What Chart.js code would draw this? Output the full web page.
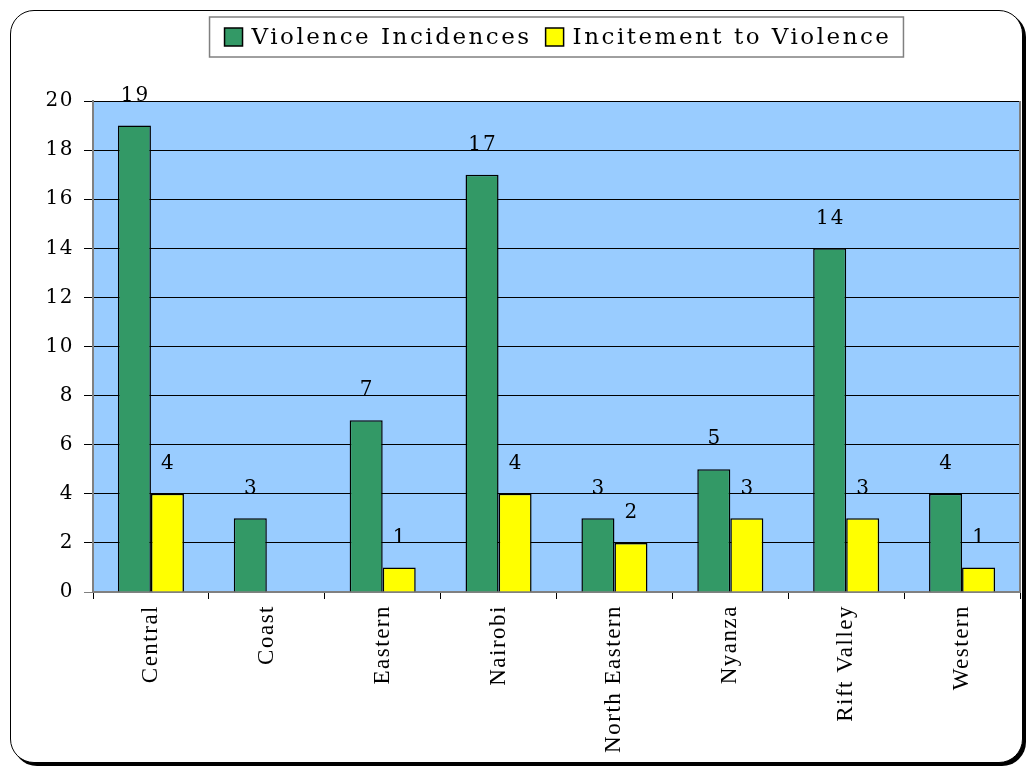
<!DOCTYPE html>
<html>
<head>
<meta charset="utf-8">
<script src="https://cdn.jsdelivr.net/npm/chart.js@4.4.1/dist/chart.umd.min.js"></script>
<style>
  body{margin:0;background:#fff;}
  #wrap{position:relative;width:1034px;height:775px;}
  #frame{position:absolute;left:10px;top:10px;width:1011px;height:751px;border:1px solid #000;border-radius:24px;box-shadow:3px 3px 0 #000;background:#fff;}
  #chart{position:absolute;left:0;top:0;}
</style>
</head>
<body>
<div id="wrap">
  <div id="frame"></div>
  <canvas id="chart" width="1034" height="775"></canvas>
</div>
<script>
// DATA
const regions = ["Central","Coast","Eastern","Nairobi","North Eastern","Nyanza","Rift Valley","Western"];
const violence = [19,3,7,17,3,5,14,4];
const incitement = [4,null,1,4,2,3,3,1];
const yTicks = [0,2,4,6,8,10,12,14,16,18,20];

// plot background + right border
const plotBg = {
  id:"plotBg",
  beforeDraw(chart){
    const {ctx, chartArea:a} = chart;
    ctx.letterSpacing = "1.5px";
    ctx.save();
    ctx.fillStyle = "#99CCFF";
    ctx.fillRect(a.left, a.top, a.right-a.left, a.bottom-a.top);
    ctx.restore();
  },
  afterDraw(chart){
    const {ctx, chartArea:a} = chart;
    ctx.save();
    ctx.strokeStyle = "#808080";
    ctx.lineWidth = 2;
    ctx.beginPath();
    ctx.moveTo(a.right, a.top);
    ctx.lineTo(a.right, a.bottom);
    ctx.stroke();
    ctx.restore();
  }
};

// value labels above bars
const valueLabels = {
  id:"valueLabels",
  afterDatasetsDraw(chart){
    const ctx = chart.ctx;
    ctx.save();
    ctx.letterSpacing = "2px";
    ctx.font = '20px "DejaVu Serif"';
    ctx.fillStyle = "#000";
    ctx.textAlign = "center";
    ctx.textBaseline = "middle";
    chart.data.datasets.forEach((ds,i)=>{
      chart.getDatasetMeta(i).data.forEach((bar,j)=>{
        const v = ds.data[j];
        if(v==null) return;
        ctx.fillText(String(v), bar.x+1, bar.y-30);
      });
    });
    ctx.restore();
  }
};

// boxed legend centred on the plot area
const boxLegend = {
  id:"boxLegend",
  afterDraw(chart){
    const ctx = chart.ctx, a = chart.chartArea;
    ctx.save();
    ctx.letterSpacing = "2.5px";
    ctx.font = '23px "DejaVu Serif"';
    const sw = 18, padL = 15, padR = 12, gapS = 9, gapI = 14;
    const ds = chart.data.datasets;
    const widths = ds.map(d=>ctx.measureText(d.label).width);
    let total = padL + padR;
    widths.forEach((w,i)=>{ total += sw + gapS + w + (i<ds.length-1?gapI:0); });
    const cx = (a.left+a.right)/2;
    const top = 17, h = 40;
    let x = cx - total/2;
    ctx.strokeStyle = "#808080";
    ctx.lineWidth = 1.5;
    ctx.strokeRect(x, top, total, h);
    x += padL;
    ds.forEach((d,i)=>{
      ctx.fillStyle = d.backgroundColor;
      ctx.fillRect(x, top+11, sw, sw);
      ctx.strokeStyle = "#000";
      ctx.lineWidth = 1.5;
      ctx.strokeRect(x, top+11, sw, sw);
      x += sw + gapS;
      ctx.fillStyle = "#000";
      ctx.textBaseline = "middle";
      ctx.textAlign = "left";
      ctx.fillText(d.label, x, top+h/2+1);
      x += widths[i] + gapI;
    });
    ctx.restore();
  }
};

new Chart(document.getElementById("chart"), {
  type:"bar",
  data:{
    labels:regions,
    datasets:[
      {label:"Violence Incidences", data:violence, backgroundColor:"#339966", borderColor:"#000", borderWidth:1.5},
      {label:"Incitement to Violence", data:incitement, backgroundColor:"#FFFF00", borderColor:"#000", borderWidth:1.5}
    ]
  },
  options:{
    responsive:false,
    animation:false,
    layout:{padding:{left:0,right:14,top:101,bottom:0}},
    categoryPercentage:0.57,
    barPercentage:1.0,
    plugins:{legend:{display:false}, tooltip:{enabled:false}},
    scales:{
      x:{
        afterFit(s){ s.height = 183; },
        grid:{drawOnChartArea:false, drawTicks:true, tickLength:7, color:"#000", offset:true},
        border:{color:"#808080", width:2},
        ticks:{
          autoSkip:false, maxRotation:90, minRotation:90, padding:6,
          color:"#000", font:{family:"Liberation Serif", size:23}
        }
      },
      y:{
        min:0, max:20,
        afterFit(s){ s.width = 93; },
        afterBuildTicks(s){ s.ticks = yTicks.map(v=>({value:v})); },
        grid:{color:(c)=>c.tick && c.tick.value===0 ? "#808080" : "#000", lineWidth:1, tickLength:9},
        border:{color:"#808080", width:2},
        ticks:{color:"#000", padding:10, font:{family:"DejaVu Serif", size:20}}
      }
    }
  },
  plugins:[plotBg, valueLabels, boxLegend]
});
</script>
</body>
</html>
